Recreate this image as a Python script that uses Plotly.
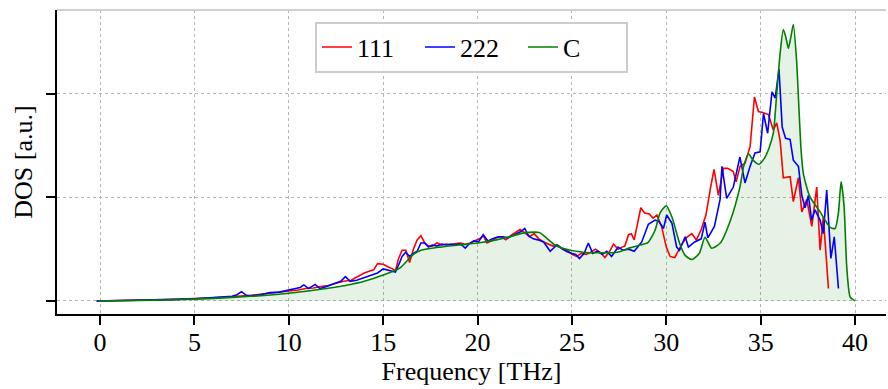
import plotly.graph_objects as go

# ---- data (frequency in THz, DOS in arbitrary units) ----
f_111 = [-0.15, 1, 2, 3, 4, 5, 6, 6.5, 7, 7.5, 8, 8.5, 9, 9.5, 10, 10.5, 10.9, 11.3, 11.7, 12.1,
         12.5, 12.9, 13.3, 13.7, 14.0, 14.3, 14.5, 14.7, 15.0, 15.25, 15.5, 15.65, 15.8, 16.0, 16.2,
         16.4, 16.6, 16.8, 17.0, 17.2, 17.4, 17.6, 17.85, 18.1, 18.35, 18.6, 18.85, 19.1, 19.35, 19.6,
         19.85, 20.1, 20.3, 20.5, 20.75, 21.0, 21.25, 21.5, 21.75, 22.0, 22.25, 22.5, 22.75, 23.0,
         23.25, 23.5, 23.75, 24.0, 24.25, 24.5, 24.75, 25.0, 25.25, 25.5, 25.75, 26.0, 26.25, 26.5,
         26.75, 27.0, 27.2, 27.45, 27.65, 27.8, 28.0, 28.15, 28.3, 28.5, 28.65, 28.85, 29.1, 29.3,
         29.5, 29.75, 30.0, 30.2, 30.45, 30.8, 31.05, 31.35, 31.6, 31.85, 32.1, 32.35, 32.53, 32.76,
         33.02, 33.25, 33.55, 33.7, 33.91, 34.17, 34.44, 34.67, 34.88, 35.11, 35.41, 35.67, 35.85,
         36.03, 36.2, 36.56, 36.73, 37.0, 37.18, 37.44, 37.71, 37.97, 38.15, 38.32, 38.59]
dos_111 = [0.0, 0.002, 0.005, 0.01, 0.015, 0.02, 0.03, 0.035, 0.04, 0.045, 0.055, 0.065, 0.075, 0.08,
           0.09, 0.105, 0.12, 0.125, 0.14, 0.15, 0.17, 0.19, 0.2, 0.24, 0.27, 0.29, 0.30, 0.36, 0.355,
           0.33, 0.31, 0.29, 0.40, 0.49, 0.49, 0.37, 0.50, 0.59, 0.63, 0.56, 0.53, 0.53, 0.56, 0.54,
           0.55, 0.54, 0.555, 0.56, 0.545, 0.56, 0.58, 0.60, 0.63, 0.56, 0.58, 0.61, 0.62, 0.59, 0.63,
           0.66, 0.69, 0.66, 0.62, 0.65, 0.60, 0.57, 0.55, 0.53, 0.54, 0.50, 0.49, 0.45, 0.43, 0.46,
           0.45, 0.47, 0.50, 0.47, 0.42, 0.48, 0.55, 0.50, 0.52, 0.53, 0.64, 0.65, 0.59, 0.75, 0.90,
           0.85, 0.84, 0.80, 0.83, 0.72, 0.52, 0.43, 0.42, 0.54, 0.61, 0.65, 0.59, 0.69, 0.83, 1.10,
           1.27, 1.02, 1.28, 1.28, 1.25, 1.15, 1.30, 1.33, 1.49, 1.97, 1.83, 1.82, 1.80, 1.65, 1.72,
           1.55, 1.19, 1.20, 0.96, 1.19, 0.86, 0.98, 0.72, 1.10, 0.49, 0.81, 0.12]

f_222 = [-0.2, 1, 2, 3, 4, 5, 6, 6.5, 7, 7.25, 7.5, 7.75, 8.0, 8.5, 9.0, 9.5, 9.9, 10.3, 10.6, 10.8,
         11.05, 11.4, 11.65, 12.0, 12.5, 12.75, 13.0, 13.25, 13.6, 13.95, 14.3, 14.7, 15.0, 15.4,
         15.65, 15.85, 16.0, 16.2, 16.4, 16.6, 16.8, 17.0, 17.2, 17.4, 17.6, 17.85, 18.1, 18.35, 18.6,
         18.85, 19.1, 19.35, 19.55, 19.8, 20.05, 20.3, 20.55, 20.8, 21.1, 21.35, 21.6, 21.85, 22.1,
         22.3, 22.5, 22.7, 22.95, 23.2, 23.5, 23.85, 24.2, 24.45, 24.7, 24.95, 25.2, 25.4, 25.65,
         25.87, 26.1, 26.35, 26.6, 26.85, 27.1, 27.45, 27.7, 28.0, 28.3, 28.7, 29.05, 29.4, 29.6,
         29.85, 30.02, 30.3, 30.55, 30.7, 31.0, 31.17, 31.5, 31.85, 32.05, 32.2, 32.55, 32.85, 32.95,
         33.2, 33.55, 33.9, 34.17, 34.44, 34.7, 34.97, 35.15, 35.37, 35.6, 35.77, 35.97, 36.14,
         36.32, 36.56, 36.73, 37.0, 37.18, 37.35, 37.53, 37.7, 37.88, 38.15, 38.32, 38.5, 38.72,
         38.9, 39.12]
dos_222 = [0.0, 0.003, 0.006, 0.01, 0.015, 0.022, 0.03, 0.035, 0.045, 0.06, 0.09, 0.055, 0.05, 0.06,
           0.08, 0.085, 0.10, 0.115, 0.13, 0.155, 0.12, 0.16, 0.12, 0.14, 0.175, 0.19, 0.235, 0.19,
           0.20, 0.22, 0.24, 0.27, 0.31, 0.29, 0.28, 0.36, 0.43, 0.47, 0.43, 0.46, 0.48, 0.56, 0.56,
           0.52, 0.54, 0.53, 0.55, 0.54, 0.55, 0.545, 0.55, 0.51, 0.55, 0.58, 0.57, 0.64, 0.58, 0.60,
           0.62, 0.62, 0.61, 0.63, 0.65, 0.67, 0.70, 0.63, 0.60, 0.59, 0.57, 0.48, 0.54, 0.51, 0.48,
           0.46, 0.45, 0.41, 0.46, 0.56, 0.46, 0.48, 0.45, 0.48, 0.43, 0.52, 0.49, 0.50, 0.48, 0.57,
           0.74, 0.78, 0.77, 0.70, 0.83, 0.75, 0.52, 0.49, 0.62, 0.52, 0.57, 0.60, 0.76, 0.61, 0.72,
           0.98, 1.30, 0.99, 1.10, 1.39, 1.14, 1.30, 1.43, 1.44, 1.81, 1.62, 2.02, 1.96, 2.24, 1.68,
           1.57, 1.56, 1.36, 1.30, 1.02, 0.90, 1.02, 0.78, 0.88, 0.78, 0.65, 1.07, 0.41, 0.62, 0.12]

f_C = [-0.1, 2, 4, 6, 8, 10, 12, 13, 14, 15, 15.9, 16.6, 17.0, 18, 19, 20, 21, 21.5, 22.4, 23.0,
       23.3, 23.7, 24.1, 24.5, 25.6, 26.5, 27.4, 28.1, 28.6, 29.0, 29.4, 29.67, 30.0, 30.3, 30.7,
       31.0, 31.35, 31.75, 32.05, 32.4, 32.85, 33.4, 33.9, 34.1, 34.35, 34.6, 34.9, 35.2, 35.45,
       35.67, 35.85, 36.03, 36.2, 36.33, 36.47, 36.6, 36.73, 36.9, 37.03, 37.14, 37.26, 37.6,
       38.15, 38.68, 38.94, 39.12, 39.26, 39.42, 39.56, 39.74, 40.0]
dos_C = [0.0, 0.004, 0.012, 0.025, 0.045, 0.075, 0.12, 0.15, 0.19, 0.25, 0.32, 0.45, 0.49, 0.52,
         0.54, 0.56, 0.59, 0.61, 0.655, 0.665, 0.66, 0.60, 0.54, 0.51, 0.47, 0.465, 0.47, 0.515,
         0.54, 0.56, 0.68, 0.85, 0.92, 0.81, 0.56, 0.44, 0.40, 0.46, 0.615, 0.51, 0.557, 0.78, 1.10,
         1.30, 1.42, 1.36, 1.32, 1.38, 1.48, 1.62, 2.0, 2.39, 2.62, 2.55, 2.44, 2.55, 2.67, 2.33,
         1.85, 1.46, 1.23, 1.01, 0.86, 0.71, 0.70, 0.85, 1.15, 0.91, 0.33, 0.04, 0.0]

x_ticks = [0, 5, 10, 15, 20, 25, 30, 35, 40]
y_ticks = [0, 1, 2]

FONT = "Liberation Serif, Times New Roman, serif"

fig = go.Figure()
fig.add_trace(go.Scatter(x=f_C, y=dos_C, mode="lines", line=dict(width=0, shape="spline", smoothing=0.6),
                         fill="tozeroy", fillcolor="rgba(0,128,0,0.1)", showlegend=False, hoverinfo="skip"))
fig.add_trace(go.Scatter(x=f_111, y=dos_111, mode="lines", name="111",
                         line=dict(color="#ff0000", width=1.6)))
fig.add_trace(go.Scatter(x=f_222, y=dos_222, mode="lines", name="222",
                         line=dict(color="#0000ff", width=1.6)))
fig.add_trace(go.Scatter(x=f_C, y=dos_C, mode="lines", name="C",
                         line=dict(color="#008000", width=1.6, shape="spline", smoothing=0.6)))

fig.update_layout(
    width=888, height=389,
    margin=dict(l=57, r=2, t=10, b=75),
    paper_bgcolor="white", plot_bgcolor="white",
    font=dict(family=FONT, size=26, color="black"),
    showlegend=True,
    legend=dict(orientation="h", x=0.5, xanchor="center", y=0.962, yanchor="top",
                bgcolor="rgba(255,255,255,0.9)", bordercolor="#cccccc", borderwidth=2,
                font=dict(family=FONT, size=26), entrywidth=58, tracegroupgap=0),
    xaxis=dict(range=[-2.28, 41.64], tickvals=x_ticks, ticks="outside", ticklen=9, tickwidth=2,
               tickcolor="black", showline=True, linecolor="black", linewidth=2, mirror=False,
               showgrid=True, gridcolor="#b5b5b5", griddash="dot", gridwidth=1, zeroline=False,
               ticklabelstandoff=-5,
               title=dict(text="Frequency [THz]", standoff=2, font=dict(family=FONT, size=26)),
               tickfont=dict(family=FONT, size=26)),
    yaxis=dict(range=[-0.126, 2.81], tickvals=y_ticks, showticklabels=False, ticks="outside",
               ticklen=9, tickwidth=2, tickcolor="black", showline=True, linecolor="black",
               linewidth=2, showgrid=True, gridcolor="#b5b5b5", griddash="dot", gridwidth=1,
               zeroline=False,
               title=dict(text="DOS [a.u.]", standoff=6, font=dict(family=FONT, size=26))),
    shapes=[dict(type="line", xref="paper", yref="paper", x0=0, x1=1, y0=1, y1=1,
                 line=dict(color="#d0d0d0", width=2))],
)

fig.write_html("out.html")
